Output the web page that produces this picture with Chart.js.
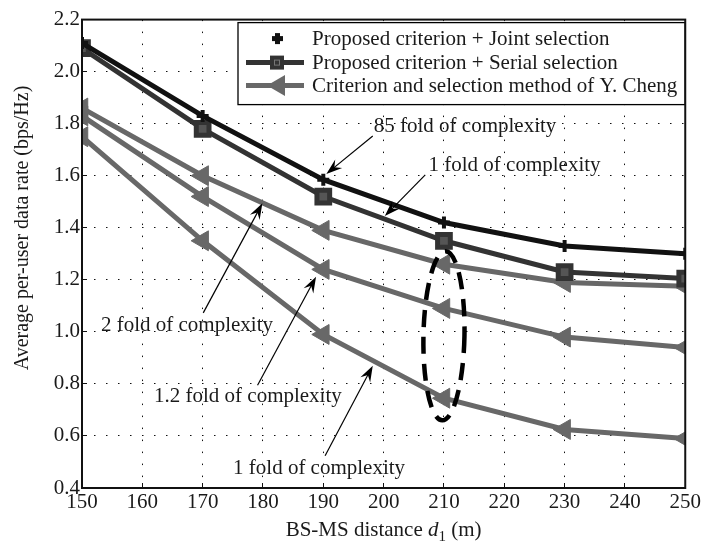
<!DOCTYPE html>
<html lang="en">
<head>
    <meta charset="UTF-8">
    <title>Average per-user data rate vs BS-MS distance</title>
    <script src="https://cdn.jsdelivr.net/npm/chart.js"></script>
    <style>
        html, body {
            margin: 0;
            padding: 0;
            background: #fff;
        }
        .chart-container {
            width: 708px;
            height: 546px;
            position: relative;
        }
    </style>
</head>
<body>
    <div class="chart-container">
        <canvas id="rateChart" width="708" height="546"></canvas>
    </div>

    <script>
        // distance d1 (m)
        const distances = [150, 170, 190, 210, 230, 250];

        // per-user rate (bps/Hz)
        const jointRate = [2.11, 1.83, 1.585, 1.42, 1.33, 1.30];
        const serialRate = [2.09, 1.78, 1.52, 1.35, 1.23, 1.205];
        const chengRateA = [1.86, 1.60, 1.39, 1.26, 1.19, 1.175];
        const chengRateB = [1.83, 1.52, 1.24, 1.09, 0.98, 0.94];
        const chengRateC = [1.75, 1.35, 0.99, 0.745, 0.625, 0.59];

        const xTicks = [150, 160, 170, 180, 190, 200, 210, 220, 230, 240, 250];
        const yTicks = [0.4, 0.6, 0.8, 1.0, 1.2, 1.4, 1.6, 1.8, 2.0, 2.2];

        const legendLabels = [
            'Proposed criterion + Joint selection',
            'Proposed criterion + Serial selection',
            'Criterion and selection method of Y. Cheng'
        ];
        const yTitle = 'Average per-user data rate (bps/Hz)';

        // annotations: text position and arrow tail/head, in data units
        const notes = [
            { text: '85 fold of complexity', tx: 213.5, ty: 1.79, from: [198.2, 1.753], to: [190.5, 1.607] },
            { text: '1 fold of complexity', tx: 221.7, ty: 1.64, from: [206.9, 1.603], to: [200.2, 1.445] },
            { text: '2 fold of complexity', tx: 167.4, ty: 1.024, from: [170.1, 1.073], to: [179.9, 1.494] },
            { text: '1.2 fold of complexity', tx: 177.5, ty: 0.753, from: [179.1, 0.795], to: [188.8, 1.212] },
            { text: '1 fold of complexity', tx: 189.3, ty: 0.475, from: [190.3, 0.524], to: [198.2, 0.87] }
        ];
        const ellipseNote = { cx: 210, cy: 0.985, rx: 3.4, ry: 0.325 };

        const SERIF = '"Liberation Serif", "DejaVu Serif", serif';
        const C_JOINT = '#111111';
        const C_SERIAL = '#333333';
        const C_CHENG = '#686868';

        function toPoints(vals) {
            return vals.map((v, i) => ({ x: distances[i], y: v }));
        }

        function chengSet(vals) {
            return {
                data: toPoints(vals),
                borderColor: C_CHENG,
                backgroundColor: C_CHENG,
                borderWidth: 5,
                pointStyle: 'triangle',
                pointRotation: 270,
                pointRadius: 11.5,
                pointBorderWidth: 1,
                pointBorderColor: C_CHENG,
                pointBackgroundColor: C_CHENG
            };
        }

        function drawArrow(ctx, x1, y1, x2, y2) {
            const ang = Math.atan2(y2 - y1, x2 - x1);
            const len = 16, half = 5.5;
            ctx.beginPath();
            ctx.moveTo(x1, y1);
            ctx.lineTo(x2 - Math.cos(ang) * 8, y2 - Math.sin(ang) * 8);
            ctx.lineWidth = 1.2;
            ctx.strokeStyle = '#000';
            ctx.stroke();
            const bx = x2 - Math.cos(ang) * len, by = y2 - Math.sin(ang) * len;
            const nx = -Math.sin(ang), ny = Math.cos(ang);
            const mx = x2 - Math.cos(ang) * len * 0.65, my = y2 - Math.sin(ang) * len * 0.65;
            ctx.beginPath();
            ctx.moveTo(x2, y2);
            ctx.lineTo(bx + nx * half, by + ny * half);
            ctx.lineTo(mx, my);
            ctx.lineTo(bx - nx * half, by - ny * half);
            ctx.closePath();
            ctx.fillStyle = '#000';
            ctx.fill();
        }

        const decorPlugin = {
            id: 'decor',
            afterDatasetsDraw(chart) {
                const ctx = chart.ctx;
                const xs = chart.scales.x, ys = chart.scales.y;
                const area = chart.chartArea;
                ctx.save();

                // dashed ellipse
                const cx = xs.getPixelForValue(ellipseNote.cx);
                const cy = ys.getPixelForValue(ellipseNote.cy);
                const rx = Math.abs(xs.getPixelForValue(ellipseNote.cx + ellipseNote.rx) - cx);
                const ry = Math.abs(ys.getPixelForValue(ellipseNote.cy + ellipseNote.ry) - cy);
                ctx.beginPath();
                ctx.ellipse(cx, cy, rx, ry, 0.02, 0, Math.PI * 2);
                ctx.setLineDash([17, 10]);
                ctx.lineWidth = 4.5;
                ctx.strokeStyle = '#000';
                ctx.stroke();
                ctx.setLineDash([]);

                // arrows + labels
                ctx.font = '21px ' + SERIF;
                ctx.textAlign = 'center';
                ctx.textBaseline = 'middle';
                notes.forEach(n => {
                    drawArrow(ctx,
                        xs.getPixelForValue(n.from[0]), ys.getPixelForValue(n.from[1]),
                        xs.getPixelForValue(n.to[0]), ys.getPixelForValue(n.to[1]));
                    ctx.fillStyle = '#1a1a1a';
                    ctx.fillText(n.text, xs.getPixelForValue(n.tx), ys.getPixelForValue(n.ty));
                });

                // legend box
                const lx = 238, ly = area.top + 3, lw = area.right - 238, lh = 82;
                ctx.fillStyle = '#fff';
                ctx.fillRect(lx, ly, lw, lh);
                ctx.lineWidth = 1.3;
                ctx.strokeStyle = '#000';
                ctx.strokeRect(lx, ly, lw, lh);
                const rows = [ly + 16, ly + 40, ly + 63];
                ctx.textAlign = 'left';
                ctx.textBaseline = 'middle';

                // row 1: plus marker only
                ctx.fillStyle = C_JOINT;
                ctx.fillRect(272, rows[0] - 2.5, 11, 5);
                ctx.fillRect(275, rows[0] - 5.5, 5, 11);
                // row 2: line + square
                ctx.beginPath();
                ctx.moveTo(246, rows[1]); ctx.lineTo(304, rows[1]);
                ctx.lineWidth = 5; ctx.strokeStyle = C_SERIAL; ctx.stroke();
                ctx.fillStyle = C_SERIAL;
                ctx.fillRect(270, rows[1] - 7, 14, 14);
                ctx.strokeStyle = '#777'; ctx.lineWidth = 1;
                ctx.strokeRect(274.5, rows[1] - 2.5, 5, 5);
                // row 3: line + left triangle
                ctx.beginPath();
                ctx.moveTo(246, rows[2]); ctx.lineTo(304, rows[2]);
                ctx.lineWidth = 5; ctx.strokeStyle = C_CHENG; ctx.stroke();
                ctx.beginPath();
                ctx.moveTo(267, rows[2]);
                ctx.lineTo(285, rows[2] - 10.5);
                ctx.lineTo(285, rows[2] + 10.5);
                ctx.closePath();
                ctx.fillStyle = C_CHENG; ctx.fill();

                ctx.font = '21px ' + SERIF;
                ctx.fillStyle = '#1a1a1a';
                legendLabels.forEach((t, i) => ctx.fillText(t, 312, rows[i] + 1));

                // x axis title with italic d and subscript
                const parts = [
                    { t: 'BS-MS distance ', f: '21px ' + SERIF, dy: 0 },
                    { t: 'd', f: 'italic 21px ' + SERIF, dy: 0 },
                    { t: '1', f: '15px ' + SERIF, dy: 5 },
                    { t: ' (m)', f: '21px ' + SERIF, dy: 0 }
                ];
                let total = 0;
                parts.forEach(p => { ctx.font = p.f; p.w = ctx.measureText(p.t).width; total += p.w; });
                let x = (area.left + area.right) / 2 - total / 2;
                ctx.textBaseline = 'alphabetic';
                parts.forEach(p => {
                    ctx.font = p.f;
                    ctx.fillText(p.t, x, 536 + p.dy);
                    x += p.w;
                });

                // y axis title
                ctx.save();
                ctx.translate(23, 228);
                ctx.rotate(-Math.PI / 2);
                ctx.font = '20px ' + SERIF;
                ctx.textAlign = 'center';
                ctx.textBaseline = 'middle';
                ctx.fillText(yTitle, 0, 0);
                ctx.restore();

                // frame
                ctx.lineWidth = 2;
                ctx.strokeStyle = '#111';
                ctx.strokeRect(area.left, area.top, area.right - area.left, area.bottom - area.top);
                ctx.restore();
            }
        };

        const ctx = document.getElementById('rateChart').getContext('2d');
        const rateChart = new Chart(ctx, {
            type: 'line',
            data: {
                datasets: [
                    {
                        data: toPoints(jointRate),
                        borderColor: C_JOINT,
                        backgroundColor: C_JOINT,
                        borderWidth: 5,
                        pointStyle: 'crossRot',
                        pointRotation: 45,
                        pointRadius: 6,
                        pointBorderWidth: 4,
                        pointBorderColor: C_JOINT
                    },
                    {
                        data: toPoints(serialRate),
                        borderColor: C_SERIAL,
                        backgroundColor: C_SERIAL,
                        borderWidth: 5,
                        pointStyle: 'rect',
                        pointRadius: 9,
                        pointBorderWidth: 5,
                        pointBorderColor: C_SERIAL,
                        pointBackgroundColor: '#555'
                    },
                    chengSet(chengRateA),
                    chengSet(chengRateB),
                    chengSet(chengRateC)
                ]
            },
            options: {
                responsive: false,
                animation: false,
                layout: { padding: { top: 10, right: 18, left: 0, bottom: 0 } },
                plugins: {
                    legend: { display: false },
                    tooltip: { enabled: false }
                },
                scales: {
                    x: {
                        type: 'linear',
                        min: 150,
                        max: 250,
                        afterBuildTicks: s => { s.ticks = xTicks.map(v => ({ value: v })); },
                        afterFit: s => { s.height = 58; },
                        grid: {
                            color: '#111',
                            lineWidth: 1,
                            tickLength: -5,
                            tickColor: '#111'
                        },
                        border: { display: false, dash: [1.5, 10.5] },
                        ticks: {
                            color: '#1a1a1a',
                            font: { family: SERIF, size: 21 },
                            padding: 7,
                            maxRotation: 0,
                            autoSkip: false
                        }
                    },
                    y: {
                        type: 'linear',
                        min: 0.4,
                        max: 2.2,
                        afterBuildTicks: s => { s.ticks = yTicks.map(v => ({ value: v })); },
                        afterFit: s => { s.width = 82; },
                        grid: {
                            color: '#111',
                            lineWidth: 1,
                            tickLength: -5,
                            tickColor: '#111'
                        },
                        border: { display: false, dash: [1.5, 10.5] },
                        ticks: {
                            color: '#1a1a1a',
                            font: { family: SERIF, size: 21 },
                            padding: 7,
                            autoSkip: false,
                            callback: v => Number(v).toFixed(1)
                        }
                    }
                }
            },
            plugins: [decorPlugin]
        });
    </script>
</body>
</html>
